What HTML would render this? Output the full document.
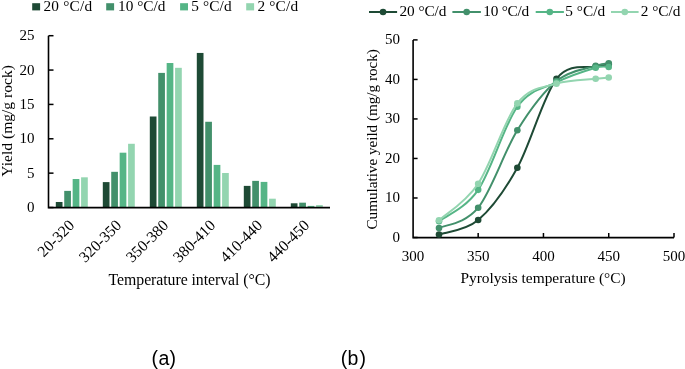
<!DOCTYPE html><html><head><meta charset="utf-8"><style>html,body{margin:0;padding:0;background:#fff;}svg{display:block}</style></head><body>
<svg width="685" height="369" viewBox="0 0 685 369" style="will-change:transform">
<rect width="685" height="369" fill="#fff"/>
<rect x="32.2" y="3.2" width="7.9" height="7.2" fill="#1e4a35"/>
<text x="43.5" y="11" font-family="Liberation Serif, serif" font-size="15.3" textLength="48.6" fill="#000">20 °C/d</text>
<rect x="106.2" y="3.2" width="7.9" height="7.2" fill="#42906b"/>
<text x="118.1" y="11" font-family="Liberation Serif, serif" font-size="15.3" textLength="47.3" fill="#000">10 °C/d</text>
<rect x="180.1" y="3.2" width="7.9" height="7.2" fill="#55b586"/>
<text x="191.3" y="11" font-family="Liberation Serif, serif" font-size="15.3" textLength="40.3" fill="#000">5 °C/d</text>
<rect x="246.2" y="3.2" width="7.9" height="7.2" fill="#93d5b0"/>
<text x="257.4" y="11" font-family="Liberation Serif, serif" font-size="15.3" textLength="40.7" fill="#000">2 °C/d</text>
<rect x="55.80" y="201.99" width="6.7" height="5.51" fill="#1e4a35"/>
<rect x="64.23" y="190.88" width="6.7" height="16.62" fill="#42906b"/>
<rect x="72.66" y="179.02" width="6.7" height="28.48" fill="#55b586"/>
<rect x="81.09" y="177.31" width="6.7" height="30.19" fill="#93d5b0"/>
<rect x="102.80" y="182.11" width="6.7" height="25.39" fill="#1e4a35"/>
<rect x="111.23" y="171.82" width="6.7" height="35.68" fill="#42906b"/>
<rect x="119.66" y="152.69" width="6.7" height="54.81" fill="#55b586"/>
<rect x="128.09" y="143.78" width="6.7" height="63.72" fill="#93d5b0"/>
<rect x="149.80" y="116.50" width="6.7" height="91.00" fill="#1e4a35"/>
<rect x="158.23" y="72.89" width="6.7" height="134.61" fill="#42906b"/>
<rect x="166.66" y="63.02" width="6.7" height="144.48" fill="#55b586"/>
<rect x="175.09" y="67.82" width="6.7" height="139.68" fill="#93d5b0"/>
<rect x="196.80" y="52.94" width="6.7" height="154.56" fill="#1e4a35"/>
<rect x="205.23" y="121.77" width="6.7" height="85.73" fill="#42906b"/>
<rect x="213.66" y="164.90" width="6.7" height="42.60" fill="#55b586"/>
<rect x="222.09" y="172.99" width="6.7" height="34.51" fill="#93d5b0"/>
<rect x="243.80" y="185.88" width="6.7" height="21.62" fill="#1e4a35"/>
<rect x="252.23" y="180.87" width="6.7" height="26.63" fill="#42906b"/>
<rect x="260.66" y="181.90" width="6.7" height="25.60" fill="#55b586"/>
<rect x="269.09" y="198.70" width="6.7" height="8.80" fill="#93d5b0"/>
<rect x="290.80" y="203.29" width="6.7" height="4.21" fill="#1e4a35"/>
<rect x="299.23" y="202.68" width="6.7" height="4.82" fill="#42906b"/>
<rect x="307.66" y="205.90" width="6.7" height="1.60" fill="#55b586"/>
<rect x="316.09" y="205.07" width="6.7" height="2.43" fill="#93d5b0"/>
<path d="M48.5 35.7V207.6H330.0" fill="none" stroke="#000" stroke-width="1.6"/>
<path d="M48.5 207.50H53.5" stroke="#000" stroke-width="1.5"/>
<text x="34.5" y="212.10" font-family="Liberation Serif, serif" font-size="15" text-anchor="end">0</text>
<path d="M48.5 173.14H53.5" stroke="#000" stroke-width="1.5"/>
<text x="34.5" y="177.74" font-family="Liberation Serif, serif" font-size="15" text-anchor="end">5</text>
<path d="M48.5 138.78H53.5" stroke="#000" stroke-width="1.5"/>
<text x="34.5" y="143.38" font-family="Liberation Serif, serif" font-size="15" text-anchor="end">10</text>
<path d="M48.5 104.42H53.5" stroke="#000" stroke-width="1.5"/>
<text x="34.5" y="109.02" font-family="Liberation Serif, serif" font-size="15" text-anchor="end">15</text>
<path d="M48.5 70.06H53.5" stroke="#000" stroke-width="1.5"/>
<text x="34.5" y="74.66" font-family="Liberation Serif, serif" font-size="15" text-anchor="end">20</text>
<path d="M48.5 35.70H53.5" stroke="#000" stroke-width="1.5"/>
<text x="34.5" y="40.30" font-family="Liberation Serif, serif" font-size="15" text-anchor="end">25</text>
<text x="75.30" y="226.3" font-family="Liberation Serif, serif" font-size="15.7" text-anchor="end" transform="rotate(-45 75.30 226.3)">20-320</text>
<text x="122.30" y="226.3" font-family="Liberation Serif, serif" font-size="15.7" text-anchor="end" transform="rotate(-45 122.30 226.3)">320-350</text>
<text x="169.30" y="226.3" font-family="Liberation Serif, serif" font-size="15.7" text-anchor="end" transform="rotate(-45 169.30 226.3)">350-380</text>
<text x="216.30" y="226.3" font-family="Liberation Serif, serif" font-size="15.7" text-anchor="end" transform="rotate(-45 216.30 226.3)">380-410</text>
<text x="263.30" y="226.3" font-family="Liberation Serif, serif" font-size="15.7" text-anchor="end" transform="rotate(-45 263.30 226.3)">410-440</text>
<text x="310.30" y="226.3" font-family="Liberation Serif, serif" font-size="15.7" text-anchor="end" transform="rotate(-45 310.30 226.3)">440-450</text>
<text x="108.6" y="285" font-family="Liberation Serif, serif" font-size="15.8" textLength="161.8">Temperature interval (°C)</text>
<text x="-55.8" y="0" font-family="Liberation Serif, serif" font-size="15.6" textLength="111.6" transform="translate(11.7 120.9) rotate(-90)">Yield (mg/g rock)</text>
<path d="M369.0 12H397.1" stroke="#1e4a35" stroke-width="2"/>
<circle cx="383.05" cy="12" r="3.3" fill="#1e4a35"/>
<text x="399.5" y="16.4" font-family="Liberation Serif, serif" font-size="15.3" textLength="46.9">20 °C/d</text>
<path d="M452.4 12H480.9" stroke="#42906b" stroke-width="2"/>
<circle cx="466.65" cy="12" r="3.3" fill="#42906b"/>
<text x="483.3" y="16.4" font-family="Liberation Serif, serif" font-size="15.3" textLength="45.8">10 °C/d</text>
<path d="M535.7 12H563.9" stroke="#55b586" stroke-width="2"/>
<circle cx="549.80" cy="12" r="3.3" fill="#55b586"/>
<text x="565.3" y="16.4" font-family="Liberation Serif, serif" font-size="15.3" textLength="39.9">5 °C/d</text>
<path d="M611.0 12H638.6" stroke="#93d5b0" stroke-width="2"/>
<circle cx="624.80" cy="12" r="3.3" fill="#93d5b0"/>
<text x="640.8" y="16.4" font-family="Liberation Serif, serif" font-size="15.3" textLength="39.5">2 °C/d</text>
<path d="M413.1 39.9V237.6H674.0" fill="none" stroke="#000" stroke-width="1.6"/>
<path d="M413.1 237.50H417.6" stroke="#000" stroke-width="1.5"/>
<text x="400" y="241.90" font-family="Liberation Serif, serif" font-size="15" text-anchor="end">0</text>
<path d="M413.1 197.98H417.6" stroke="#000" stroke-width="1.5"/>
<text x="400" y="202.38" font-family="Liberation Serif, serif" font-size="15" text-anchor="end">10</text>
<path d="M413.1 158.46H417.6" stroke="#000" stroke-width="1.5"/>
<text x="400" y="162.86" font-family="Liberation Serif, serif" font-size="15" text-anchor="end">20</text>
<path d="M413.1 118.94H417.6" stroke="#000" stroke-width="1.5"/>
<text x="400" y="123.34" font-family="Liberation Serif, serif" font-size="15" text-anchor="end">30</text>
<path d="M413.1 79.42H417.6" stroke="#000" stroke-width="1.5"/>
<text x="400" y="83.82" font-family="Liberation Serif, serif" font-size="15" text-anchor="end">40</text>
<path d="M413.1 39.90H417.6" stroke="#000" stroke-width="1.5"/>
<text x="400" y="44.30" font-family="Liberation Serif, serif" font-size="15" text-anchor="end">50</text>
<text x="412.90" y="260.6" font-family="Liberation Serif, serif" font-size="15" text-anchor="middle">300</text>
<path d="M478.17 237.5V233.0" stroke="#000" stroke-width="1.5"/>
<text x="478.17" y="260.6" font-family="Liberation Serif, serif" font-size="15" text-anchor="middle">350</text>
<path d="M543.45 237.5V233.0" stroke="#000" stroke-width="1.5"/>
<text x="543.45" y="260.6" font-family="Liberation Serif, serif" font-size="15" text-anchor="middle">400</text>
<path d="M608.73 237.5V233.0" stroke="#000" stroke-width="1.5"/>
<text x="608.73" y="260.6" font-family="Liberation Serif, serif" font-size="15" text-anchor="middle">450</text>
<path d="M674.00 237.5V233.0" stroke="#000" stroke-width="1.5"/>
<text x="674.00" y="260.6" font-family="Liberation Serif, serif" font-size="15" text-anchor="middle">500</text>
<path d="M439.01 234.50C445.54 232.09 465.12 231.16 478.17 220.03C491.23 208.91 504.29 191.28 517.34 167.75C530.39 144.21 543.45 95.70 556.50 78.83C569.56 61.96 586.97 68.96 595.67 66.54C604.37 64.11 606.55 64.66 608.73 64.28" fill="none" stroke="#1e4a35" stroke-width="2"/>
<circle cx="439.01" cy="234.50" r="3.3" fill="#1e4a35"/>
<circle cx="478.17" cy="220.03" r="3.3" fill="#1e4a35"/>
<circle cx="517.34" cy="167.75" r="3.3" fill="#1e4a35"/>
<circle cx="556.50" cy="78.83" r="3.3" fill="#1e4a35"/>
<circle cx="595.67" cy="66.54" r="3.3" fill="#1e4a35"/>
<circle cx="608.73" cy="64.28" r="3.3" fill="#1e4a35"/>
<path d="M439.01 228.09C445.54 224.70 465.12 224.00 478.17 207.70C491.23 191.40 504.29 151.39 517.34 130.28C530.39 109.17 543.45 91.78 556.50 81.04C569.56 70.30 586.97 68.83 595.67 65.86C604.37 62.90 606.55 63.69 608.73 63.26" fill="none" stroke="#42906b" stroke-width="2"/>
<circle cx="439.01" cy="228.09" r="3.3" fill="#42906b"/>
<circle cx="478.17" cy="207.70" r="3.3" fill="#42906b"/>
<circle cx="517.34" cy="130.28" r="3.3" fill="#42906b"/>
<circle cx="556.50" cy="81.04" r="3.3" fill="#42906b"/>
<circle cx="595.67" cy="65.86" r="3.3" fill="#42906b"/>
<circle cx="608.73" cy="63.26" r="3.3" fill="#42906b"/>
<path d="M439.01 221.26C445.54 216.02 465.12 208.93 478.17 189.84C491.23 170.75 504.29 124.64 517.34 106.73C530.39 88.81 543.45 88.84 556.50 82.34C569.56 75.85 586.97 70.32 595.67 67.76C604.37 65.21 606.55 67.14 608.73 67.01" fill="none" stroke="#55b586" stroke-width="2"/>
<circle cx="439.01" cy="221.26" r="3.3" fill="#55b586"/>
<circle cx="478.17" cy="189.84" r="3.3" fill="#55b586"/>
<circle cx="517.34" cy="106.73" r="3.3" fill="#55b586"/>
<circle cx="556.50" cy="82.34" r="3.3" fill="#55b586"/>
<circle cx="595.67" cy="67.76" r="3.3" fill="#55b586"/>
<circle cx="608.73" cy="67.01" r="3.3" fill="#55b586"/>
<path d="M439.01 220.27C445.54 214.18 465.12 203.20 478.17 183.71C491.23 164.23 504.29 120.05 517.34 103.37C530.39 86.69 543.45 87.75 556.50 83.65C569.56 79.55 586.97 79.77 595.67 78.75C604.37 77.73 606.55 77.73 608.73 77.52" fill="none" stroke="#93d5b0" stroke-width="2"/>
<circle cx="439.01" cy="220.27" r="3.3" fill="#93d5b0"/>
<circle cx="478.17" cy="183.71" r="3.3" fill="#93d5b0"/>
<circle cx="517.34" cy="103.37" r="3.3" fill="#93d5b0"/>
<circle cx="556.50" cy="83.65" r="3.3" fill="#93d5b0"/>
<circle cx="595.67" cy="78.75" r="3.3" fill="#93d5b0"/>
<circle cx="608.73" cy="77.52" r="3.3" fill="#93d5b0"/>
<text x="460.4" y="283" font-family="Liberation Serif, serif" font-size="15.4" textLength="165.2">Pyrolysis temperature (°C)</text>
<text x="-90.2" y="0" font-family="Liberation Serif, serif" font-size="15.2" textLength="180.4" transform="translate(377.4 139.35) rotate(-90)">Cumulative yeild (mg/g rock)</text>
<text y="365.2" font-family="Liberation Sans, sans-serif" font-size="19.5"><tspan x="151.6">(</tspan><tspan x="158.6">a</tspan><tspan x="169.6">)</tspan></text>
<text y="365.2" font-family="Liberation Sans, sans-serif" font-size="19.5"><tspan x="340.8">(</tspan><tspan x="347.6">b</tspan><tspan x="359.6">)</tspan></text>
</svg></body></html>
